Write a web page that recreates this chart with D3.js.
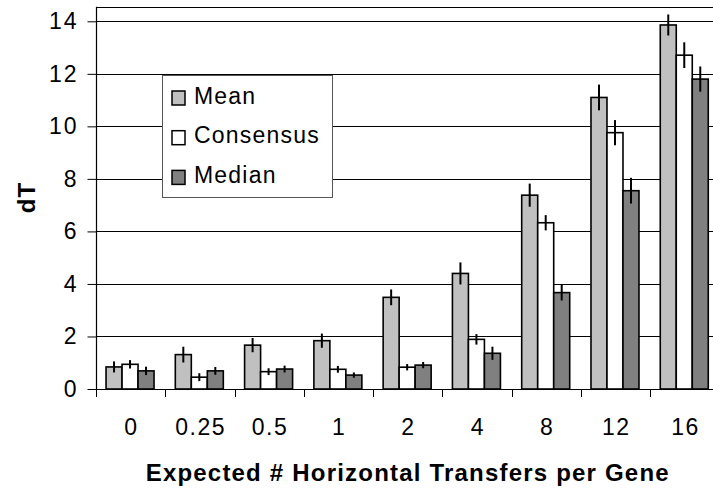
<!DOCTYPE html>
<html>
<head>
<meta charset="utf-8">
<script src="https://cdn.jsdelivr.net/npm/d3@7/dist/d3.min.js"></script>
<style>
  html, body { margin: 0; padding: 0; background: #fff; }
  svg { display: block; }
  text { font-family: "Liberation Sans", Arial, sans-serif; fill: #000; }
</style>
</head>
<body>
<svg id="chart" width="713" height="489"></svg>
<script>
const categories = ["0", "0.25", "0.5", "1", "2", "4", "8", "12", "16"];
const seriesNames = ["Mean", "Consensus", "Median"];
const meanValues = [0.84, 1.31, 1.67, 1.84, 3.49, 4.40, 7.38, 11.10, 13.86];
const meanErrors = [0.21, 0.30, 0.27, 0.27, 0.30, 0.42, 0.44, 0.49, 0.40];
const consensusValues = [0.94, 0.45, 0.66, 0.75, 0.83, 1.89, 6.33, 9.76, 12.71];
const consensusErrors = [0.16, 0.15, 0.13, 0.13, 0.12, 0.20, 0.29, 0.48, 0.49];
const medianValues = [0.69, 0.69, 0.76, 0.53, 0.91, 1.36, 3.67, 7.55, 11.80];
const medianErrors = [0.16, 0.15, 0.13, 0.10, 0.12, 0.25, 0.30, 0.49, 0.48];
const yTicks = [0, 2, 4, 6, 8, 10, 12, 14];
const seriesColors = ["#C0C0C0", "#FFFFFF", "#808080"];
const xTitle = "Expected # Horizontal Transfers per Gene";
const yTitle = "dT";

const FONT = '"Liberation Sans", Arial, sans-serif';
const svg = d3.select("#chart");
const left = 96, right = 719.5, bottom = 389;
const yMaxFrame = 14.55;

const x = d3.scaleBand().domain(categories).range([left, right]).padding(0);
const inner = d3.scaleBand().domain(seriesNames).range([0, 48]).padding(0);
const groupOffset = (x.bandwidth() - 48) / 2 - 0.6;
const y = d3.scaleLinear().domain([0, 14]).range([bottom, 21.3]);
const topY = y(yMaxFrame);

// gridlines
svg.append("g").selectAll("line").data(yTicks.filter(d => d > 0)).join("line")
  .attr("x1", left).attr("x2", right)
  .attr("y1", d => Math.round(y(d)) + 0.5).attr("y2", d => Math.round(y(d)) + 0.5)
  .attr("stroke", "#000").attr("stroke-width", 1);

// top frame line
svg.append("line").attr("x1", left).attr("x2", right)
  .attr("y1", Math.round(topY) + 0.5).attr("y2", Math.round(topY) + 0.5)
  .attr("stroke", "#000").attr("stroke-width", 1);

// y axis
const yAxis = d3.axisLeft(y).tickValues(yTicks).tickSize(9).tickPadding(9).tickFormat(d3.format("d"));
const gy = svg.append("g").attr("transform", `translate(${left + 0.5},0)`).call(yAxis);
gy.select(".domain").remove();
gy.selectAll(".tick line").attr("stroke", "#000").attr("stroke-width", 1);
gy.selectAll(".tick text").attr("font-size", 23).attr("letter-spacing", 2)
  .attr("font-family", FONT).attr("fill", "#000");
svg.append("line").attr("x1", left + 0.5).attr("x2", left + 0.5)
  .attr("y1", topY).attr("y2", bottom + 0.5).attr("stroke", "#000").attr("stroke-width", 1.2);

// data table
const valueSets = [meanValues, consensusValues, medianValues];
const errorSets = [meanErrors, consensusErrors, medianErrors];
const rows = [];
categories.forEach((c, i) => {
  seriesNames.forEach((s, j) => {
    rows.push({ cat: c, series: s, value: valueSets[j][i], err: errorSets[j][i], color: seriesColors[j] });
  });
});

// bars
svg.append("g").selectAll("rect").data(rows).join("rect")
  .attr("x", d => x(d.cat) + groupOffset + inner(d.series))
  .attr("width", inner.bandwidth())
  .attr("y", d => y(d.value))
  .attr("height", d => bottom - y(d.value))
  .attr("fill", d => d.color)
  .attr("stroke", "#000").attr("stroke-width", 1.6);

// x axis line
svg.append("line").attr("x1", left).attr("x2", right)
  .attr("y1", bottom + 0.5).attr("y2", bottom + 0.5)
  .attr("stroke", "#000").attr("stroke-width", 1.2);

// x boundary ticks
const bounds = categories.map(c => x(c)).concat([right]);
svg.append("g").selectAll("line").data(bounds).join("line")
  .attr("x1", d => Math.round(d) + 0.5).attr("x2", d => Math.round(d) + 0.5)
  .attr("y1", bottom).attr("y2", bottom + 8)
  .attr("stroke", "#000").attr("stroke-width", 1);

// x labels
const xAxis = d3.axisBottom(x).tickSize(0).tickPadding(31);
const gx = svg.append("g").attr("transform", `translate(0,${bottom})`).call(xAxis);
gx.select(".domain").remove();
gx.selectAll(".tick text").attr("font-size", 23).attr("letter-spacing", 1.5)
  .attr("font-family", FONT).attr("fill", "#000")
  .attr("dy", "0").attr("y", 46).attr("dx", 0.75).attr("dominant-baseline", "auto");

// error bars
svg.append("g").selectAll("line").data(rows).join("line")
  .attr("x1", d => x(d.cat) + groupOffset + inner(d.series) + inner.bandwidth() / 2)
  .attr("x2", d => x(d.cat) + groupOffset + inner(d.series) + inner.bandwidth() / 2)
  .attr("y1", d => y(d.value + d.err))
  .attr("y2", d => y(d.value - d.err))
  .attr("stroke", "#000").attr("stroke-width", 2);

// titles
svg.append("text").attr("x", (left + right) / 2).attr("y", 481)
  .attr("text-anchor", "middle").attr("font-size", 24).attr("font-weight", "bold")
  .attr("font-family", FONT).attr("letter-spacing", 1.2).text(xTitle);
svg.append("text").attr("transform", "translate(35,197.5) rotate(-90)")
  .attr("text-anchor", "middle").attr("font-size", 24).attr("font-weight", "bold")
  .attr("font-family", FONT).attr("letter-spacing", 1.2).text(yTitle);

// legend
const lg = svg.append("g");
lg.append("rect").attr("x", 162.5).attr("y", 75.5).attr("width", 170).attr("height", 122)
  .attr("fill", "#fff").attr("stroke", "#555").attr("stroke-width", 1);
const legendRows = lg.selectAll("g.item").data(seriesNames).join("g").attr("class", "item")
  .attr("transform", (d, i) => `translate(0,${98 + i * 39.7})`);
legendRows.append("rect").attr("x", 172).attr("y", -7).attr("width", 13).attr("height", 14)
  .attr("fill", (d, i) => seriesColors[i]).attr("stroke", "#000").attr("stroke-width", 1.5);
legendRows.append("text").attr("x", 194).attr("y", 5.5)
  .attr("font-family", FONT).attr("font-size", 23).attr("letter-spacing", 1.2).text(d => d);
</script>
</body>
</html>
